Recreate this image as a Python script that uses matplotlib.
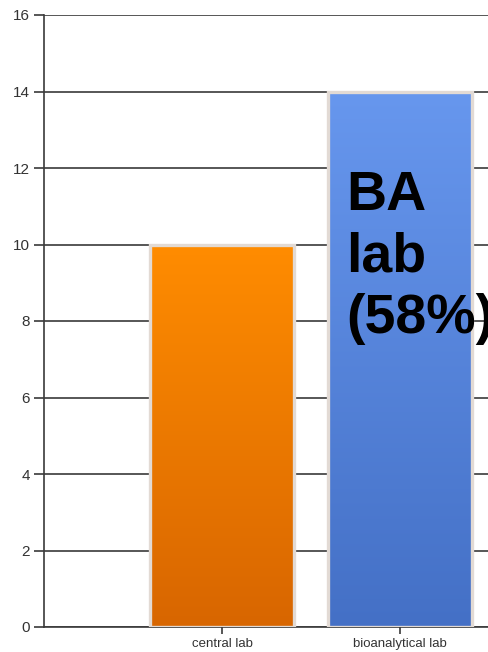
import matplotlib
matplotlib.use("Agg")
import matplotlib.pyplot as plt
import numpy as np
from matplotlib.colors import LinearSegmentedColormap

categories = ["central lab", "bioanalytical lab"]
values = [10, 14]
y_ticks = [0, 2, 4, 6, 8, 10, 12, 14, 16]
annotation = "BA\nlab\n(58%)"

top_colors = ["#FF8C00", "#6797EE"]
bottom_colors = ["#D86600", "#4470C6"]

plt.rcParams["font.family"] = ["Liberation Sans", "DejaVu Sans"]

fig = plt.figure(figsize=(4.89, 6.52), dpi=100)
ax = fig.add_axes([44 / 489, 1 - 627 / 652, 1 - 44 / 489, (627 - 15) / 652])

x = np.arange(1, len(categories) + 1)
bars = ax.bar(x, values, width=0.81, color="none", edgecolor="#e2dad4",
              linewidth=2.4, zorder=3)

grad = np.linspace(1, 0, 256).reshape(-1, 1)
for bar, tc, bc in zip(bars, top_colors, bottom_colors):
    cmap = LinearSegmentedColormap.from_list("g", [bc, tc])
    x0, y0 = bar.get_x(), bar.get_y()
    w, h = bar.get_width(), bar.get_height()
    im = ax.imshow(grad, cmap=cmap, aspect="auto", extent=[x0, x0 + w, y0, y0 + h],
                   zorder=2, interpolation="bicubic")
    im.set_clip_path(bar)

ax.set_xlim(0, 2.5)
ax.set_ylim(0, 16)
ax.set_xticks(x)
ax.set_xticklabels(categories, fontsize=9.5, color="#333333")
ax.set_yticks(y_ticks)
ax.set_yticklabels([str(t) for t in y_ticks], fontsize=11, color="#333333")

ax.set_axisbelow(True)
ax.yaxis.grid(True, color="#3a3a3a", linewidth=1.2)
for s in ["top", "right"]:
    ax.spines[s].set_visible(False)
ax.spines["left"].set_color("#3a3a3a")
ax.spines["left"].set_linewidth(1.2)
ax.spines["bottom"].set_color("#3a3a3a")
ax.spines["bottom"].set_linewidth(1.2)
ax.tick_params(axis="y", length=7, width=1.2, color="#3a3a3a", pad=3)
ax.tick_params(axis="x", length=5, width=1.2, color="#3a3a3a", pad=3)

ax.text(1.70, 11.95, annotation, fontsize=40, fontweight="bold", color="black",
        ha="left", va="top", linespacing=1.24, zorder=5, clip_on=False)

fig.savefig("out.png", dpi=100)
